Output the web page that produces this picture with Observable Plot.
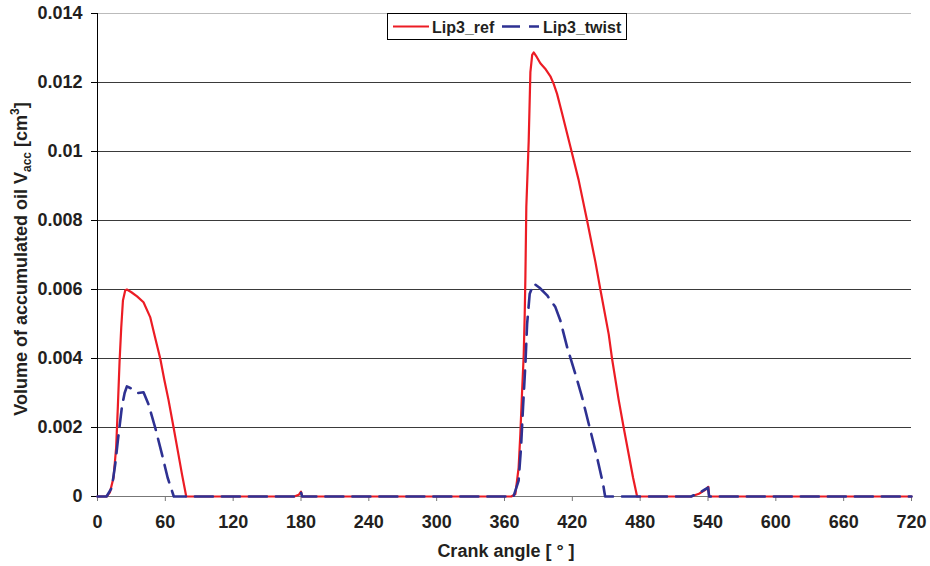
<!DOCTYPE html>
<html>
<head>
<meta charset="utf-8">
<script src="https://cdn.jsdelivr.net/npm/d3@7"></script>
<script src="https://cdn.jsdelivr.net/npm/@observablehq/plot@0.6"></script>
<style>
  body { margin: 0; background: #fff; }
  #chart { position: relative; width: 930px; height: 566px; font-family: "Liberation Sans", Arial, sans-serif; }
  #legend { position: absolute; left: 387px; top: 13px; }
</style>
</head>
<body>
<div id="chart"></div>
<script>
// Accumulated oil volume per crank angle, seal variant Lip3_ref
const refAngle = [0, 8, 11, 14.2, 16.5, 18, 19.5, 21, 22.5, 24.5, 26, 30, 35, 40.7, 46.6, 51, 55.5, 59, 62.8, 67.3, 71.7, 74.7, 78.5,
  174, 178, 180, 181,
  366, 369.6, 372.5, 374, 375.5, 377, 377.9, 378.5, 379.3, 381.4, 382.9, 384.5, 385.8, 388.5, 391.7, 396, 400.6, 403.5, 406.5, 410.9, 418.3, 425.6,
  433, 440.4, 444.8, 452.2, 455.1, 461, 465.4, 469.8, 473.7, 477.3,
  525, 532, 538, 540.3, 541, 720];
const refVolume = [0, 0, 0.00012, 0.00055, 0.00142, 0.0026, 0.0039, 0.0049, 0.00568, 0.00597, 0.0060, 0.00592, 0.0058, 0.00563, 0.0052, 0.0046, 0.0040, 0.0034, 0.0028, 0.0020, 0.0012, 0.00065, 0,
  0, 0.00005, 0.00014, 0,
  0, 0.00007, 0.00084, 0.0018, 0.0030, 0.0041, 0.0053, 0.0064, 0.0084, 0.0103, 0.0123, 0.0128, 0.01287, 0.01274, 0.01256, 0.0124, 0.01218, 0.01196, 0.01167, 0.01111, 0.01014, 0.00917,
  0.00801, 0.0068, 0.0060, 0.0047, 0.0040, 0.0028, 0.0020, 0.00123, 0.00055, 0,
  0, 0.00008, 0.0002, 0.00028, 0, 0];

// Accumulated oil volume per crank angle, seal variant Lip3_twist
const twistAngle = [0, 8, 12.7, 15.7, 18, 21.6, 24, 26, 30.4, 36, 40.7, 45, 51, 57, 62, 65.8, 67.5,
  174, 178, 180, 181,
  368, 372.5, 374.6, 376.4, 378.5, 380, 382.3, 386, 391, 397.7, 405, 409.4, 415.4, 422.7, 428.6, 436, 441.9, 447.2, 449,
  525, 532, 537, 540, 541, 720];
const twistVolume = [0, 0, 0.00026, 0.00094, 0.00162, 0.0026, 0.0030, 0.00319, 0.00312, 0.0030, 0.00302, 0.00268, 0.0020, 0.00123, 0.00055, 0.00017, 0,
  0, 0.00005, 0.00012, 0,
  0, 0.00046, 0.00142, 0.00259, 0.00385, 0.0050, 0.00588, 0.00617, 0.00605, 0.00583, 0.00549, 0.0051, 0.00433, 0.00355, 0.00288, 0.00191, 0.00113, 0.00036, 0,
  0, 0.0001, 0.0002, 0.00026, 0, 0];

const xTicks = [0, 60, 120, 180, 240, 300, 360, 420, 480, 540, 600, 660, 720];
const yTicks = [0, 0.002, 0.004, 0.006, 0.008, 0.01, 0.012, 0.014];

const seriesNames = ["Lip3_ref", "Lip3_twist"];
const seriesColors = ["#ec1c24", "#2e3192"];

const refData = refAngle.map((a, i) => ({angle: a, volume: refVolume[i]}));
const twistData = twistAngle.map((a, i) => ({angle: a, volume: twistVolume[i]}));

const textColor = "#231f20";

const chart = Plot.plot({
  width: 930,
  height: 566,
  marginLeft: 97,
  marginRight: 19,
  marginTop: 13,
  marginBottom: 70,
  style: {fontFamily: "'Liberation Sans', Arial, sans-serif", fontSize: "18px", fontWeight: "bold", background: "#fff", overflow: "visible"},
  x: {domain: [0, 720]},
  y: {domain: [0, 0.014]},
  marks: [
    Plot.ruleY(yTicks.filter(d => d > 0 && d < 0.014), {stroke: "#3a3a3a", strokeWidth: 1}),
    Plot.ruleY([0.014], {stroke: "#bbb", strokeWidth: 1}),
    Plot.ruleY([0], {stroke: "#777", strokeWidth: 1}),
    Plot.axisX({ticks: xTicks, tickSize: 5, tickPadding: 14, stroke: "#777", fill: textColor, label: null, tickFormat: d => String(d)}),
    Plot.axisY({ticks: yTicks, tickSize: 6, tickPadding: 9, stroke: "#000", fill: textColor, label: null,
      tickFormat: d => String(+d.toFixed(3))}),
    Plot.ruleX([0], {stroke: "#000", strokeWidth: 1}),
    Plot.line(refData, {x: "angle", y: "volume", stroke: seriesColors[0], strokeWidth: 2.2}),
    Plot.line(twistData, {x: "angle", y: "volume", stroke: seriesColors[1], strokeWidth: 2.6, strokeDasharray: "18,9"})
  ]
});

// Axis titles, with subscript and superscript in the y title
const svg = d3.select(chart);
svg.append("text")
  .attr("x", 506).attr("y", 557)
  .attr("text-anchor", "middle")
  .attr("fill", textColor)
  .style("font-size", "18px").style("font-weight", "bold")
  .text("Crank angle [ ° ]");

const yTitle = svg.append("text")
  .attr("transform", "translate(27,259) rotate(-90)")
  .attr("text-anchor", "middle")
  .attr("fill", textColor)
  .style("font-size", "18px").style("font-weight", "bold");
yTitle.append("tspan").text("Volume of accumulated oil V");
yTitle.append("tspan").attr("dy", 4).style("font-size", "12px").text("acc");
yTitle.append("tspan").attr("dy", -4).text(" [cm");
yTitle.append("tspan").attr("dy", -8).style("font-size", "12px").text("3");
yTitle.append("tspan").attr("dy", 8).text("]");

const container = document.getElementById("chart");
container.appendChild(chart);

// Legend box overlaid at the top of the plot
const legend = d3.select(container).append("svg")
  .attr("id", "legend")
  .attr("width", 241).attr("height", 28);
legend.append("rect").attr("x", 0.5).attr("y", 0.5).attr("width", 239).attr("height", 26)
  .attr("fill", "#fff").attr("stroke", "#000").attr("stroke-width", 1);
const legendItems = [
  {x0: 6, x1: 42, tx: 45, dash: null, width: 2.2},
  {x0: 115, x1: 152, tx: 156, dash: "18,9", width: 2.6}
];
seriesNames.forEach((name, i) => {
  const it = legendItems[i];
  legend.append("line")
    .attr("x1", it.x0).attr("x2", it.x1).attr("y1", 13.5).attr("y2", 13.5)
    .attr("stroke", seriesColors[i]).attr("stroke-width", it.width)
    .attr("stroke-dasharray", it.dash);
  legend.append("text")
    .attr("x", it.tx).attr("y", 19.5)
    .attr("fill", textColor)
    .style("font-family", "'Liberation Sans', Arial, sans-serif")
    .style("font-size", "16px").style("font-weight", "bold")
    .text(name);
});
</script>
</body>
</html>
